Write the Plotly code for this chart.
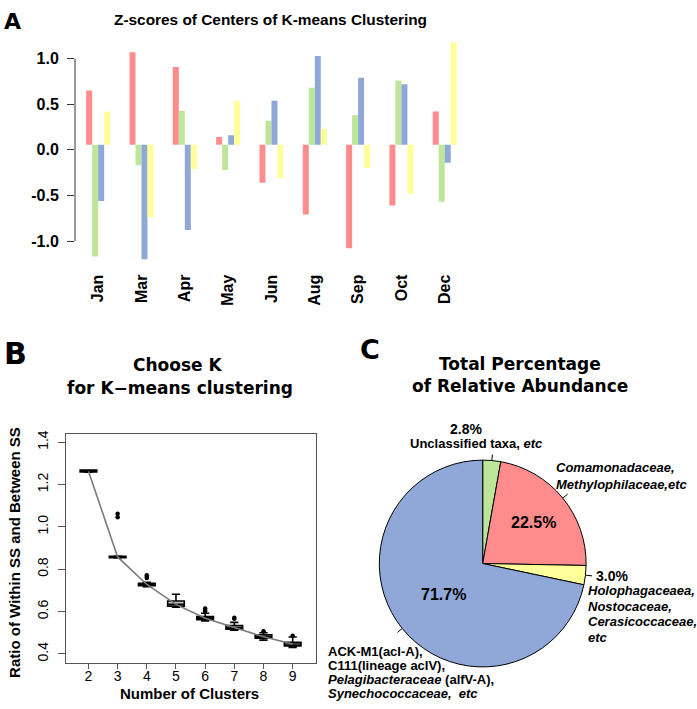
import math
import plotly.graph_objects as go

W, H = 697, 709

# ---------------- data ----------------
months = ["Jan", "Mar", "Apr", "May", "Jun", "Aug", "Sep", "Oct", "Dec"]
cluster_red = [0.65, 1.07, 0.91, 0.14, -0.36, -0.71, -1.08, -0.61, 0.42]
cluster_green = [-1.17, -0.17, 0.43, -0.22, 0.32, 0.68, 0.38, 0.76, -0.57]
cluster_blue = [-0.56, -1.20, -0.88, 0.16, 0.54, 1.03, 0.79, 0.72, -0.14]
cluster_yellow = [0.42, -0.74, -0.21, 0.54, -0.31, 0.23, -0.20, -0.48, 1.18]
z_ticks = [-1.0, -0.5, 0.0, 0.5, 1.0]

k_values = [2, 3, 4, 5, 6, 7, 8, 9]
box_lower = [1.258, 0.853, 0.718, 0.620, 0.556, 0.512, 0.465, 0.430]
box_q1 = [1.259, 0.855, 0.722, 0.625, 0.562, 0.517, 0.474, 0.438]
box_median = [1.263, 0.858, 0.728, 0.634, 0.568, 0.525, 0.481, 0.447]
box_q3 = [1.268, 0.861, 0.733, 0.650, 0.576, 0.534, 0.490, 0.455]
box_upper = [1.269, 0.862, 0.738, 0.682, 0.592, 0.549, 0.500, 0.480]
outlier_k = [3, 3, 4, 4, 4, 6, 6, 6, 7, 7, 8, 9]
outlier_v = [1.045, 1.062, 0.758, 0.765, 0.772, 0.600, 0.607, 0.614, 0.566, 0.571, 0.507, 0.486]
ratio_ticks = [0.4, 0.6, 0.8, 1.0, 1.2, 1.4]

pie_labels = ["Unclassified", "Comamonadaceae", "Holophagaceaea", "ACK-M1"]
pie_values = [2.8, 22.5, 3.0, 71.7]

# ---------------- styles ----------------
RED, GREEN, BLUE, YELLOW = "#FF8C8C", "#BDE69A", "#8FA8D7", "#FFFF99"
PIE_COLORS = [GREEN, RED, YELLOW, BLUE]
SANS = "Liberation Sans, Arial, sans-serif"
HEAVY = "DejaVu Sans, sans-serif"
BAR_BASE = 0.055


def px(x):
    return x / W


def py(y):
    return 1 - y / H


fig = go.Figure()

# ---------------- Panel A: grouped bars ----------------
for vals, col, name in [(cluster_red, RED, "1"), (cluster_green, GREEN, "2"),
                        (cluster_blue, BLUE, "3"), (cluster_yellow, YELLOW, "4")]:
    fig.add_trace(go.Bar(
        x=months, y=[v - BAR_BASE for v in vals], base=BAR_BASE,
        marker=dict(color=col, line=dict(width=0)), name=name,
        showlegend=False, xaxis="x", yaxis="y"))

# ---------------- Panel B: boxplots ----------------
fig.add_trace(go.Scatter(
    x=k_values, y=box_median, mode="lines",
    line=dict(color="#7a7a7a", width=1.6), showlegend=False,
    xaxis="x2", yaxis="y2"))
fig.add_trace(go.Box(
    x=k_values, q1=box_q1, median=box_median, q3=box_q3,
    lowerfence=box_lower, upperfence=box_upper, boxpoints=False,
    width=0.57, whiskerwidth=0.5, fillcolor="#C8C8C8",
    line=dict(color="black", width=1.6), showlegend=False,
    xaxis="x2", yaxis="y2"))
fig.add_trace(go.Scatter(
    x=outlier_k, y=outlier_v, mode="markers",
    marker=dict(color="black", size=4.5), showlegend=False,
    xaxis="x2", yaxis="y2"))

# ---------------- Panel C: pie ----------------
CX, CY, R = 482.7, 562.7, 104.0
fig.add_trace(go.Pie(
    values=pie_values, labels=pie_labels, sort=False, direction="clockwise",
    rotation=0, textinfo="none", hoverinfo="label+percent",
    marker=dict(colors=PIE_COLORS, line=dict(color="black", width=1)),
    domain=dict(x=[px(CX - R), px(CX + R)], y=[py(CY + R), py(CY - R)]),
    showlegend=False))

# slice mid angles (math convention, degrees)
total = sum(pie_values)
mid_angles = []
cum = 0.0
for v in pie_values:
    mid_angles.append(90 - 360 * (cum + v / 2) / total)
    cum += v


def polar(angle, r):
    a = math.radians(angle)
    return CX + r * math.cos(a), CY - r * math.sin(a)


shapes = []
annotations = []

# pie leader ticks
tick_ends = []
for ang in mid_angles:
    x0, y0 = polar(ang, R)
    x1, y1 = polar(ang, R + 6)
    tick_ends.append((x1, y1))
    shapes.append(dict(type="line", xref="paper", yref="paper",
                       x0=px(x0), y0=py(y0), x1=px(x1), y1=py(y1),
                       line=dict(color="black", width=1)))


def ann(text, x, y, size, family=SANS, xanchor="center", yanchor="middle",
        angle=0, weight="bold"):
    annotations.append(dict(text=text, x=px(x), y=py(y), xref="paper", yref="paper",
                            showarrow=False, xanchor=xanchor, yanchor=yanchor,
                            textangle=angle,
                            font=dict(family=family, size=size, color="black", weight=weight)))


# pie outside labels
gx, gy = tick_ends[0]
ann(f"{pie_values[0]:.1f}%", gx - 26, gy - 26, 14)
ann("Unclassified taxa, <i>etc</i>", gx - 16, gy - 11, 13)
rx, ry = tick_ends[1]
ann("<i>Comamonadaceae,</i>", rx - 14, ry - 27, 13, xanchor="left")
ann("<i>Methylophilaceae,etc</i>", rx - 14, ry - 9.5, 13, xanchor="left")
yx, yy = tick_ends[2]
ann(f"{pie_values[2]:.1f}%", yx + 2, yy, 14, xanchor="left")
for i, t in enumerate(["<i>Holophagaceaea,</i>", "<i>Nostocaceae,</i>",
                       "<i>Cerasicoccaceae,</i>", "<i>etc</i>"]):
    ann(t, yx - 5.5, yy + 15 + 15.5 * i, 13, xanchor="left")
bx, by = tick_ends[3]
for i, t in enumerate(["ACK-M1(acI-A),", "C111(lineage acIV),",
                       "<i>Pelagibacteraceae</i> (alfV-A),",
                       "<i>Synechococcaceae,  etc</i>"]):
    ann(t, bx - 71, by + 19 + 14 * i, 13, xanchor="left")

# pie inside labels
ix, iy = polar(mid_angles[1], R * 0.63)
ann(f"{pie_values[1]:.1f}%", ix, iy, 16)
ix, iy = polar(mid_angles[3], R * 0.48)
ann(f"{pie_values[3]:.1f}%", ix, iy, 16)

# titles and panel letters
ann("A", 2, 18, 22, family=HEAVY, xanchor="left")
ann("Z-scores of Centers of K-means Clustering", 270, 16, 15.4)
ann("B", 2, 351, 30, family=HEAVY, xanchor="left")
ann("Choose K", 178, 363, 17, family=HEAVY)
ann("for K\u2212means clustering", 180, 386, 17, family=HEAVY)
ann("C", 358, 347, 27, family=HEAVY, xanchor="left")
ann("Total Percentage", 520, 362, 17, family=HEAVY)
ann("of Relative Abundance", 520, 384, 17, family=HEAVY)
ann("Number of Clusters", 189, 693, 15)
ann("Ratio of Within SS and Between SS", 15, 552, 15, angle=-90)

# panel A y-axis line (only across tick range)
shapes.append(dict(type="line", xref="paper", yref="y", x0=px(75), x1=px(75),
                   y0=min(z_ticks), y1=max(z_ticks), line=dict(color="#333", width=1)))

# ---------------- layout ----------------
A_top, A_bot = 27.5, 265.9
B_left, B_right, B_top, B_bot = 65.7, 316.0, 432.7, 662.3

fig.update_layout(
    width=W, height=H, margin=dict(l=0, r=0, t=0, b=0),
    paper_bgcolor="white", plot_bgcolor="white",
    barmode="group", bargap=0.446, bargroupgap=0,
    xaxis=dict(domain=[px(75), px(466.4)], range=[-0.535, 8.5], anchor="y",
               showgrid=False, zeroline=False, showline=False, ticks="",
               tickangle=-90, ticklabelstandoff=2,
               tickfont=dict(family=SANS, size=16, color="black", weight="bold")),
    yaxis=dict(domain=[py(A_bot), py(A_top)], range=[-1.3, 1.3], anchor="x",
               showgrid=False, zeroline=False, showline=False,
               tickvals=z_ticks, ticktext=[f"{v:.1f}" for v in z_ticks],
               ticks="outside", ticklen=7, tickcolor="#333", ticklabelstandoff=5,
               tickfont=dict(family=SANS, size=16, color="black", weight="bold")),
    xaxis2=dict(domain=[px(B_left), px(B_right)], range=[1.22, 9.8], anchor="y2",
                showgrid=False, zeroline=False, showline=True, mirror=True,
                linecolor="#555", linewidth=1,
                tickvals=k_values, ticks="outside", ticklen=5, tickcolor="#555",
                ticklabelstandoff=-4,
                tickfont=dict(family=SANS, size=14, color="black")),
    yaxis2=dict(domain=[py(B_bot), py(B_top)], range=[0.359, 1.4376], anchor="x2",
                showgrid=False, zeroline=False, showline=True, mirror=True,
                linecolor="#555", linewidth=1,
                tickvals=ratio_ticks, ticktext=[f"{v:.1f}" for v in ratio_ticks],
                ticks="outside", ticklen=7, tickcolor="#555", tickangle=-90,
                ticklabelstandoff=4,
                tickfont=dict(family=SANS, size=14, color="black")),
    shapes=shapes, annotations=annotations,
)

fig.write_html("out.html", config={"displayModeBar": False},
               post_script="document.body.style.margin='0px';")
